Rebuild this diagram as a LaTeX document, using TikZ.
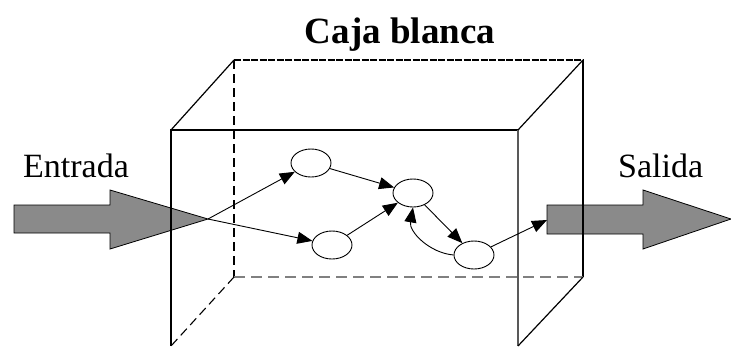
\documentclass[tikz,border=0pt]{standalone}
\usepackage{fontspec}
\setmainfont{Liberation Serif}
\usetikzlibrary{arrows.meta,shapes.geometric}

\tikzset{
  estado/.style={draw, ellipse, line width=0.9pt, minimum width=40pt, minimum height=28pt, inner sep=0pt},
  flecha/.style={line width=0.9pt, -{Triangle[length=15pt,width=12pt]}},
  gruesa/.style={draw=black, line width=0.8pt, fill=gray!85!black!80}
}

\begin{document}
\begin{tikzpicture}[x=1pt,y=-1pt]
 \useasboundingbox (0,0) rectangle (731,346);

 % big arrows
 \fill[gruesa] (14,205) -- (110,205) -- (110,190) -- (208,219) -- (110,249) -- (110,233) -- (14,233) -- cycle;
 \fill[gruesa] (547,205) -- (643,205) -- (643,190) -- (731,219) -- (643,249) -- (643,234) -- (547,234) -- cycle;
 \coordinate (in) at (208,219);
 \coordinate (out) at (547,220);

 % box
 \coordinate (fa) at (171,130);
 \coordinate (fb) at (518,130);
 \coordinate (fc) at (518,346);
 \coordinate (fd) at (171,346);
 \coordinate (ba) at (234,60);
 \coordinate (bb) at (583,60);
 \coordinate (bc) at (583,277);
 \coordinate (bd) at (234,277);
 \draw[line width=1.2pt, dash pattern=on 7pt off 1.5pt] (ba) -- (bb);
 \draw[line width=1.2pt] (bb) -- (bc);
 \draw[line width=1.1pt, dash pattern=on 9pt off 5pt] (ba) -- (bd);
 \draw[line width=1.2pt, gray, dash pattern=on 11pt off 6pt] (bd) -- (bc);
 \draw[line width=1.1pt, dash pattern=on 9pt off 5pt] (bd) -- (fd);
 \draw[line width=1.2pt] (fd) -- (fa) -- (fb);
 \draw[line width=1.2pt, gray!70!black] (fb) -- (fc);
 \draw[line width=1.2pt] (fa) -- (ba);
 \draw[line width=1.2pt] (fb) -- (bb);
 \draw[line width=1.2pt] (fc) -- (bc);

 % states
 \node[estado] (a) at (311,163) {};
 \node[estado] (b) at (332,245) {};
 \node[estado] (c) at (413,193) {};
 \node[estado] (d) at (474,255) {};

 \draw[flecha] (in) -- (a);
 \draw[flecha] (in) -- (b);
 \draw[flecha] (a) -- (c);
 \draw[flecha] (b) -- (c);
 \draw[flecha] (c) -- (d);
 \draw[flecha] (d.west) to[out=175, in=-100] (c.south);
 \draw[flecha] (d) -- (out);

 \node[font=\fontsize{37}{40}\selectfont\bfseries, anchor=base] (titulo) at (400,43) {Caja blanca};
 \node[font=\fontsize{34}{38}\selectfont, anchor=base west, inner sep=0pt] (entrada) at (23,177) {Entrada};
 \node[font=\fontsize{34}{38}\selectfont, anchor=base west, inner sep=0pt] (salida) at (618,177) {Salida};
\end{tikzpicture}
\end{document}
